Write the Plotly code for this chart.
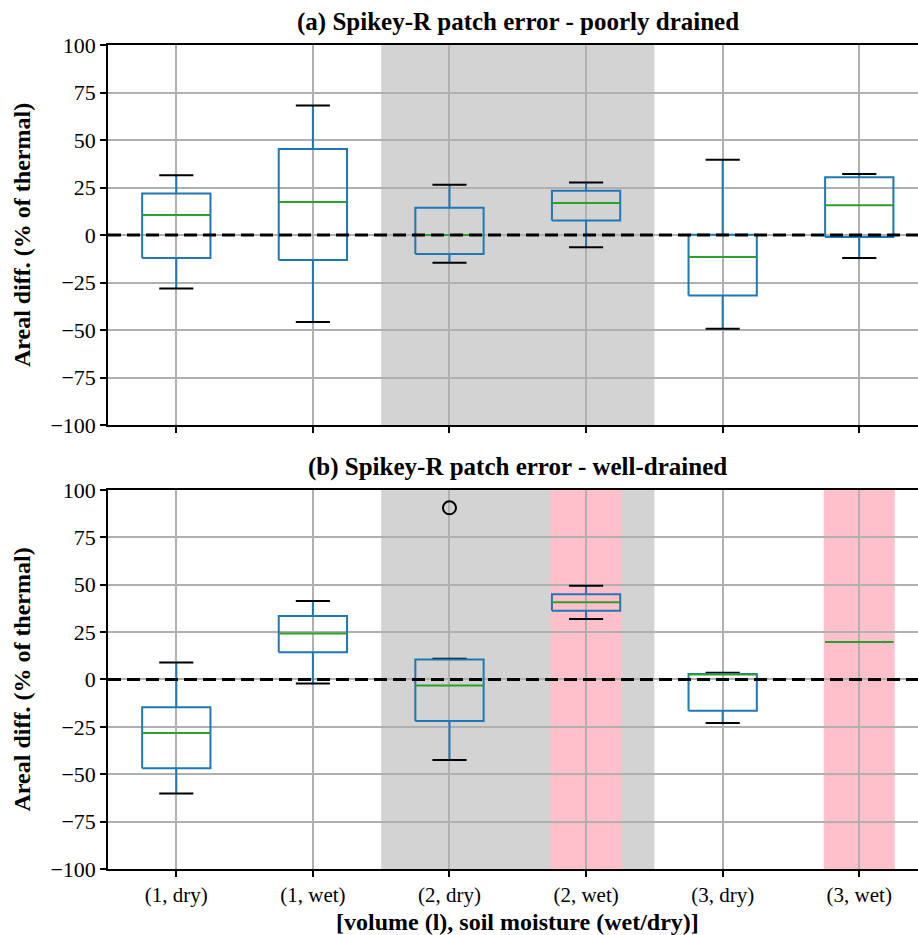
import plotly.graph_objects as go
from plotly.subplots import make_subplots

categories = ["(1, dry)", "(1, wet)", "(2, dry)", "(2, wet)", "(3, dry)", "(3, wet)"]

# (a) poorly drained: whisker low, Q1, median, Q3, whisker high
lo_a = [-28.2, -45.8, -14.6, -6.5, -49.3, -12.1]
q1_a = [-12.1, -13.2, -10.0, 7.7, -31.8, -1.1]
med_a = [10.5, 17.4, 0.0, 16.8, -11.6, 15.6]
q3_a = [21.9, 45.3, 14.4, 23.3, 0.2, 30.4]
hi_a = [31.4, 68.2, 26.5, 27.7, 39.6, 32.1]
out_a = [[], [], [], [], [], []]

# (b) well-drained
lo_b = [-60.2, -2.1, -42.5, 31.9, -23.0, 19.8]
q1_b = [-46.9, 14.4, -21.9, 36.2, -16.5, 19.8]
med_b = [-28.3, 24.2, -3.2, 40.7, 2.6, 19.8]
q3_b = [-14.6, 33.5, 10.5, 45.0, 2.9, 19.8]
hi_b = [8.9, 41.4, 11.0, 49.4, 3.5, 19.8]
out_b = [[], [], [90.6], [], [], []]

gray_cats = ["(2, dry)", "(2, wet)"]
pink_cats_b = ["(2, wet)", "(3, wet)"]

yticks = [-100, -75, -50, -25, 0, 25, 50, 75, 100]
ytick_text = [("\u2212" + str(-v)) if v < 0 else str(v) for v in yticks]

BLUE = "#1f77b4"
GREEN = "#2ca02c"
FONT = "Liberation Serif"
BW = 0.5   # box width
CW = 0.25  # cap width

fig = make_subplots(rows=2, cols=1, shared_xaxes=False, vertical_spacing=0.0)


def add_boxes(row, lo, q1, med, q3, hi, outs):
    wx, wy, cx, cy, bx, by, mx, my, ox, oy = ([] for _ in range(10))
    for i in range(len(categories)):
        p = i + 1
        wx += [p, p, None, p, p, None]
        wy += [q3[i], hi[i], None, q1[i], lo[i], None]
        cx += [p - CW / 2, p + CW / 2, None, p - CW / 2, p + CW / 2, None]
        cy += [hi[i], hi[i], None, lo[i], lo[i], None]
        bx += [p - BW / 2, p + BW / 2, p + BW / 2, p - BW / 2, p - BW / 2, None]
        by += [q1[i], q1[i], q3[i], q3[i], q1[i], None]
        mx += [p - BW / 2, p + BW / 2, None]
        my += [med[i], med[i], None]
        for v in outs[i]:
            ox.append(p)
            oy.append(v)
    common = dict(mode="lines", showlegend=False, hoverinfo="skip")
    fig.add_trace(go.Scatter(x=wx, y=wy, line=dict(color=BLUE, width=2), **common), row=row, col=1)
    fig.add_trace(go.Scatter(x=cx, y=cy, line=dict(color="black", width=2), **common), row=row, col=1)
    fig.add_trace(go.Scatter(x=bx, y=by, line=dict(color=BLUE, width=2), **common), row=row, col=1)
    fig.add_trace(go.Scatter(x=mx, y=my, line=dict(color=GREEN, width=2), **common), row=row, col=1)
    if ox:
        fig.add_trace(go.Scatter(x=ox, y=oy, mode="markers", showlegend=False,
                                 marker=dict(symbol="circle-open", size=13, color="black",
                                             line=dict(width=2, color="black"))),
                      row=row, col=1)


add_boxes(1, lo_a, q1_a, med_a, q3_a, hi_a, out_a)
add_boxes(2, lo_b, q1_b, med_b, q3_b, hi_b, out_b)

# background spans
gidx = [categories.index(c) + 1 for c in gray_cats]
for r in (1, 2):
    xr = "x" if r == 1 else "x2"
    yr = "y domain" if r == 1 else "y2 domain"
    fig.add_shape(type="rect", xref=xr, yref=yr, x0=min(gidx) - 0.5, x1=max(gidx) + 0.5,
                  y0=0, y1=1, fillcolor="#d3d3d3", line_width=0, layer="below")
for c in pink_cats_b:
    p = categories.index(c) + 1
    fig.add_shape(type="rect", xref="x2", yref="y2 domain", x0=p - 0.26, x1=p + 0.26,
                  y0=0, y1=1, fillcolor="#ffc0cb", line_width=0, layer="below")

# zero reference lines
for xr, yr in (("x domain", "y"), ("x2 domain", "y2")):
    fig.add_shape(type="line", xref=xr, yref=yr, x0=0, x1=1, y0=0, y1=0,
                  line=dict(color="black", width=3, dash="13px,6px"), layer="above")

xcommon = dict(range=[0.5, 6.43], tickvals=list(range(1, 7)), ticktext=categories,
               showgrid=True, gridcolor="#b0b0b0", gridwidth=1.5, zeroline=False,
               showline=True, linecolor="black", linewidth=1.5, mirror=True,
               ticks="outside", ticklen=6, tickwidth=1.5, tickcolor="black",
               tickfont=dict(family=FONT, size=21, color="black"))
ycommon = dict(range=[-100, 100], tickvals=yticks, ticktext=ytick_text,
               showgrid=True, gridcolor="#b0b0b0", gridwidth=1.5, zeroline=False,
               showline=True, linecolor="black", linewidth=1.5, mirror=False,
               ticks="outside", ticklen=6, tickwidth=1.5, tickcolor="black",
               tickfont=dict(family=FONT, size=22, color="black"))

fig.update_xaxes(**xcommon)
fig.update_yaxes(**ycommon)
fig.update_xaxes(showticklabels=False, row=1, col=1)

fig.update_layout(
    width=918, height=935,
    margin=dict(l=108, r=0, t=45, b=66),
    plot_bgcolor="white", paper_bgcolor="white",
    font=dict(family=FONT, color="black"),
    xaxis=dict(domain=[0, 1]), xaxis2=dict(domain=[0, 1]),
    yaxis=dict(domain=[0.5388, 1.0]), yaxis2=dict(domain=[0.0, 0.46]),
)

cx_paper = (517.5 - 108) / 810
ann = [
    dict(text="<b>(a) Spikey-R patch error - poorly drained</b>", x=cx_paper, y=1.0,
         yshift=23, size=25),
    dict(text="<b>(b) Spikey-R patch error - well-drained</b>", x=cx_paper, y=0.46,
         yshift=23, size=25),
    dict(text="<b>[volume (l), soil moisture (wet/dry)]</b>", x=cx_paper, y=0,
         yshift=-53, size=24),
]
for a in ann:
    fig.add_annotation(text=a["text"], xref="paper", yref="paper", x=a["x"], y=a["y"],
                       xanchor="center", yanchor="middle", yshift=a["yshift"],
                       showarrow=False, font=dict(family=FONT, size=a["size"], color="black"))
for yc in ((1.0 + 0.5388) / 2, 0.23):
    fig.add_annotation(text="<b>Areal diff. (% of thermal)</b>", xref="paper", yref="paper",
                       x=0, y=yc, xshift=-86, xanchor="center", yanchor="middle",
                       textangle=-90, showarrow=False,
                       font=dict(family=FONT, size=24, color="black"))

fig.write_html("out.html")
